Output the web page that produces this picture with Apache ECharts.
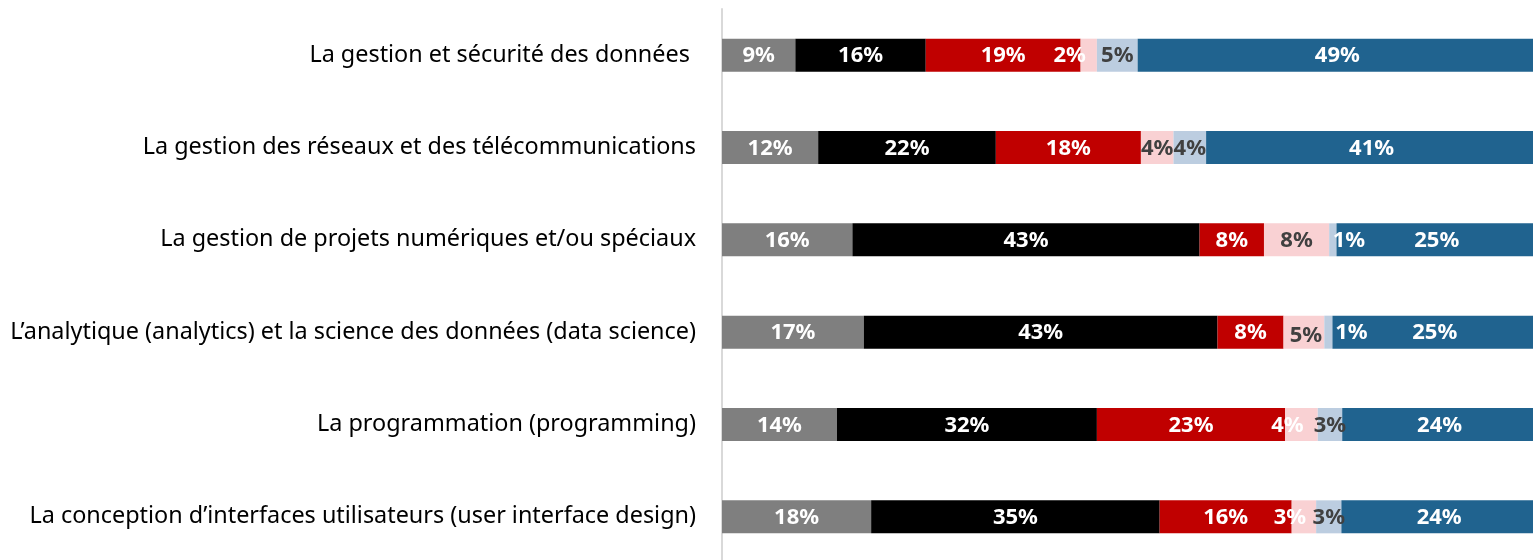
<!DOCTYPE html>
<html>
<head>
<meta charset="utf-8">
<script src="https://cdn.jsdelivr.net/npm/echarts@6/dist/echarts.min.js"></script>
<style>html,body{margin:0;padding:0;background:#fff}#c{width:1533px;height:560px}</style>
</head>
<body>
<div id="c"></div>
<script>
const categories = [
  "La gestion et sécurité des données ",
  "La gestion des réseaux et des télécommunications",
  "La gestion de projets numériques et/ou spéciaux",
  "L’analytique (analytics) et la science des données (data science)",
  "La programmation (programming)",
  "La conception d’interfaces utilisateurs (user interface design)"
];
// estimated shares (%) per row, labels shown rounded
const s1 = [9.0, 11.8, 16.0, 17.4, 14.1, 18.3];   // gray
const s2 = [16.0, 21.8, 42.6, 43.4, 31.9, 35.4];  // black
const s3 = [19.0, 17.8, 7.9, 8.1, 23.1, 16.2];    // red
const s4 = [2.0, 4.0, 8.0, 5.0, 4.0, 3.0];        // pink
const s5 = [5.0, 4.0, 0.9, 1.0, 3.0, 3.1];        // light blue
const s6 = [49.0, 40.6, 24.6, 25.1, 23.9, 24.0];  // blue

const colors = ['#7f7f7f', '#000000', '#c00000', '#f9d1d3', '#bccde0', '#20638f'];
const labelColors = ['#ffffff', '#ffffff', '#ffffff', '#404040', '#404040', '#ffffff'];
// per-item label tweaks (as in the reference)
const overrides = {
  3: {0: {color: '#ffffff', dx: -19}, 4: {color: '#ffffff', dx: -14}, 5: {color: '#ffffff', dx: -14}, 3: {dx: 2, dy: 3}},
  4: {2: {color: '#ffffff', dx: 16}, 3: {color: '#ffffff', dx: 23}}
};

const all = [s1, s2, s3, s4, s5, s6];
const series = all.map((arr, si) => ({
  type: 'bar',
  stack: 'total',
  barWidth: 33,
  itemStyle: {color: colors[si]},
  label: {
    show: true,
    position: 'inside',
    color: labelColors[si],
    fontFamily: 'Noto Sans',
    fontWeight: 'bold',
    fontSize: 22,
    formatter: p => Math.round(p.value) + '%'
  },
  labelLayout: function (params) {
    const o = overrides[si] && overrides[si][params.dataIndex];
    return {hideOverlap: false, dx: o && o.dx ? o.dx : 0, dy: (o && o.dy ? o.dy : 0) + 1};
  },
  data: arr.map((v, i) => {
    const o = overrides[si] && overrides[si][i];
    if (!o || !o.color) return v;
    return {value: v, label: {color: o.color}};
  })
}));

const chart = echarts.init(document.getElementById('c'), null, {renderer: 'canvas'});
chart.setOption({
  animation: false,
  grid: {left: 722, right: -4, top: 9, bottom: -3, containLabel: false, outerBoundsMode: 'none'},
  xAxis: {type: 'value', min: 0, max: 100, show: false},
  yAxis: {
    type: 'category',
    inverse: true,
    data: categories,
    axisLine: {show: true, lineStyle: {color: '#d9d9d9', width: 2}},
    axisTick: {show: false},
    axisLabel: {color: '#000000', fontFamily: 'Noto Sans', fontSize: 23.4, margin: 26, padding: [3, 0, 0, 0]}
  },
  series: series
});
</script>
</body>
</html>
